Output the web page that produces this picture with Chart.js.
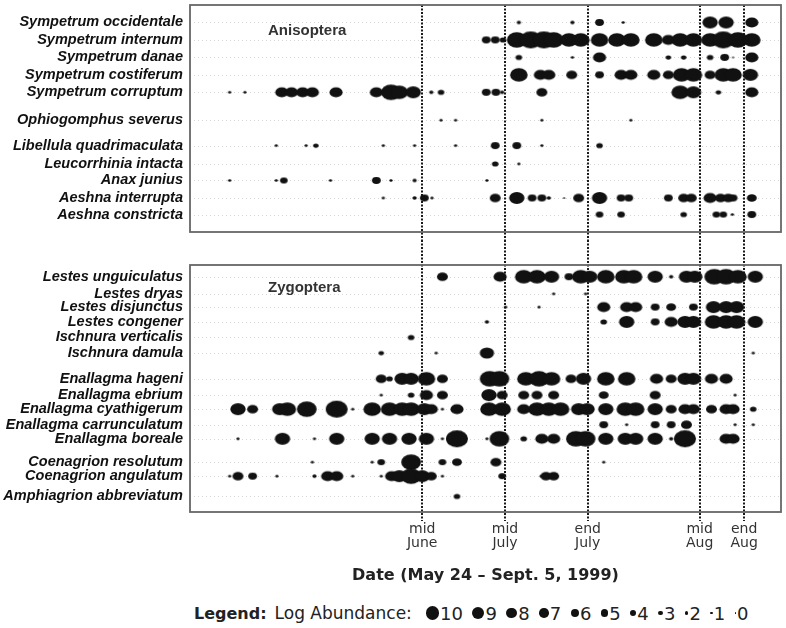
<!DOCTYPE html>
<html lang="en">
<head>
<meta charset="UTF-8">
<title>Odonata abundance, May 24 - Sept. 5, 1999</title>
<script src="https://cdn.jsdelivr.net/npm/chart.js@4.4.1/dist/chart.umd.min.js"></script>
<style>
body {margin:0; background:#fff; font-family:"DejaVu Sans", sans-serif;}
#page {position:relative; width:786px; height:628px; overflow:hidden;}
#topBox {position:absolute; left:0; top:0; width:786px; height:240px;}
#botBox {position:absolute; left:0; top:240px; width:786px; height:350px;}
#legend {position:absolute; left:194px; top:601px; height:24px; display:flex; align-items:center;
  font-size:17px; color:#222; white-space:nowrap;}
#legend .lab {margin-left:8px; margin-right:14px;}
#legend .item {display:inline-flex; align-items:center; margin-right:9.5px;}
#legend .dot {display:inline-block; border-radius:50%; background:#111; margin-right:1px;}
#legend .num {font-size:18px;}
</style>
</head>
<body>
<div id="page">
  <div id="topBox"><canvas id="aniso"></canvas></div>
  <div id="botBox"><canvas id="zygo"></canvas></div>
  <div id="legend"><b style="font-size:16px">Legend:</b><span class="lab">Log Abundance:</span><span id="lvls" style="display:flex;align-items:center"></span></div>
</div>

<script>
// x = sampling position along the season (not linear in days), v = log abundance
const dateTicks  = [33.4, 45.3, 57.2, 73.3, 79.7];
const dateLabels = [['mid','June'], ['mid','July'], ['end','July'], ['mid','Aug'], ['end','Aug']];
const legendLevels = [10, 9, 8, 7, 6, 5, 4, 3, 2, 1, 0];

const anisoSpecies = ['Sympetrum occidentale', 'Sympetrum internum', 'Sympetrum danae',
  'Sympetrum costiferum', 'Sympetrum corruptum', 'Ophiogomphus severus',
  'Libellula quadrimaculata', 'Leucorrhinia intacta', 'Anax junius',
  'Aeshna interrupta', 'Aeshna constricta'];
const anisoRows = [0, 1, 2, 3, 4, 5.6, 7.05, 8.1, 9.05, 10.05, 11];
const anisoObs = [
  [[47.3,2],[55.0,2],[58.9,4],[62.3,1.5],[74.8,7],[77.1,7],[80.8,6]],
  [[42.6,4],[43.9,4],[45.0,3],[47.0,9],[49.0,10],[50.9,10],[52.3,9],[54.5,8],[56.2,8],[58.9,8],[61.4,8],[63.4,8],
   [66.7,8],[68.8,6],[70.5,8],[72.4,8],[74.8,8],[76.7,10],[78.8,9],[80.8,8]],
  [[47.3,3],[55.0,1.5],[58.9,6],[68.8,2.5],[71.0,2.5],[74.8,3],[76.9,4],[78.1,1],[80.8,6]],
  [[47.3,8],[50.4,6],[51.6,6],[54.9,5],[58.9,4],[62.0,6],[63.4,6],[66.7,6],[68.8,5],[70.7,8],[72.4,8],[74.8,5],
   [76.7,8],[78.1,8],[80.6,7]],
  [[5.7,1.5],[7.9,1.5],[13.2,6],[14.6,6],[16.2,6],[17.6,6],[21.0,6],[26.8,6],[28.9,9],[30.1,8],[32.1,7],[34.7,2],
   [36.1,3],[42.6,4],[44.0,4],[44.9,2],[50.6,5],[70.5,8],[72.4,7],[76.0,2.5],[80.8,6]],
  [[36.1,1.5],[38.2,1.5],[50.6,1.5],[63.4,1.5]],
  [[12.4,1.5],[16.7,1.5],[18.1,2.5],[27.8,1.5],[32.3,1.5],[38.2,1.5],[43.9,4],[47.0,4],[50.6,1.5],[58.9,3]],
  [[43.9,3],[47.3,1.5]],
  [[5.7,1.5],[12.4,1.5],[13.5,3.5],[20.2,1.5],[26.8,4],[28.9,1.5],[32.3,2],[42.7,1.5]],
  [[27.8,1.5],[32.3,2],[33.7,4],[34.8,1.5],[43.9,5],[47.0,7],[49.2,4],[50.6,4],[51.6,2],[53.8,1],[55.9,5],[58.9,7],
   [62.0,4],[63.1,4],[68.8,4],[71.0,5],[72.1,5],[74.8,6],[76.3,5],[77.4,5],[78.1,4],[80.8,4.5]],
  [[58.9,3.5],[62.0,3.5],[71.0,3],[75.7,3.5],[76.7,3.5],[78.0,1.5],[80.8,4]]
];

const zygoSpecies = ['Lestes unguiculatus', 'Lestes dryas', 'Lestes disjunctus', 'Lestes congener',
  'Ischnura verticalis', 'Ischnura damula', 'Enallagma hageni', 'Enallagma ebrium',
  'Enallagma cyathigerum', 'Enallagma carrunculatum', 'Enallagma boreale',
  'Coenagrion resolutum', 'Coenagrion angulatum', 'Amphiagrion abbreviatum'];
const zygoRows = [0, 1.1, 1.95, 2.9, 3.9, 4.9, 6.55, 7.6, 8.5, 9.5, 10.4, 11.9, 12.8, 14.1];
const zygoObs = [
  [[36.3,5],[44.6,6],[48.0,8],[49.9,8],[52.0,7],[54.5,4],[56.2,8],[57.5,7],[59.8,8],[62.4,8],[63.8,8],[66.9,7],
   [69.2,2],[71.4,7],[72.6,7],[75.4,9],[77.1,9],[78.8,8],[81.3,7]],
  [[52.3,1.5],[56.9,1.5]],
  [[45.4,1.5],[50.2,1.5],[59.5,6],[62.8,6],[64.1,6],[66.9,4],[69.2,4.5],[72.4,4],[75.3,7],[77.1,7],[78.6,7]],
  [[42.7,2],[59.5,3],[62.8,7],[66.9,4],[69.2,6],[71.2,7],[72.4,7],[75.3,8],[77.1,8],[78.6,8],[81.3,7]],
  [[31.8,3]],
  [[27.5,2.5],[35.4,1.5],[42.7,6.5],[81.0,1.5]],
  [[27.5,5],[28.7,3],[30.5,7],[31.8,7],[34.0,8],[36.3,5],[43.1,9],[44.5,9],[48.3,8],[50.2,9],[52.0,8],[54.8,5],
   [56.6,7],[59.8,8],[62.8,8],[67.1,6],[69.2,5],[71.2,7],[72.4,7],[75.0,6],[77.1,6]],
  [[27.5,1.5],[31.8,3],[34.0,6],[36.3,5],[43.0,7],[44.9,5],[48.0,5],[49.9,5],[52.3,5],[59.5,4.5],[66.9,5],[78.4,1.5]],
  [[6.9,7],[9.0,5],[12.9,7],[14.0,8],[16.8,9],[21.1,10],[23.4,1.5],[26.2,8],[28.7,8],[30.5,8],[31.8,8],[33.7,7],
   [34.7,6],[36.3,1.5],[38.4,6],[43.0,8],[44.9,8],[48.0,6],[49.9,8],[51.6,8],[53.3,8],[55.9,7],[57.1,7],[59.8,7],
   [62.6,8],[64.1,8],[66.9,7],[69.2,5],[71.2,6],[72.4,6],[75.0,5],[77.1,6],[78.1,6],[81.0,3]],
  [[59.5,4],[62.8,1.5],[66.9,4],[69.2,4],[71.4,5],[78.4,1.5],[81.0,1.5]],
  [[6.9,1.5],[13.3,7],[17.9,1.5],[21.1,7],[26.2,7],[28.7,7],[31.5,7],[34.0,7],[36.3,1.5],[38.4,10],[42.7,1.5],
   [44.5,9],[48.0,3],[50.6,6],[52.3,6],[55.5,9],[56.9,9],[59.8,7],[62.6,7],[64.1,7],[66.9,7],[69.2,2],[71.2,10],
   [77.1,6],[78.1,6]],
  [[17.6,1.5],[26.2,1.5],[27.5,3.5],[31.8,9],[36.3,3.5],[38.4,4.5],[44.0,5],[59.5,1.5]],
  [[5.7,1.5],[6.9,5],[9.0,4],[12.5,1.5],[17.9,2],[19.8,6],[21.1,6],[23.4,1.5],[27.5,1.5],[29.0,6],[30.1,7],
   [31.8,9],[33.4,7],[34.7,5],[36.3,1.5],[44.9,3.5],[50.5,1.5],[51.2,5],[52.3,5]],
  [[38.4,3]]
];

const FONT = 'DejaVu Sans';
const LABEL_FONT = 'Liberation Sans';
const INK = '#111';

// the printed figure is stretched sideways, so the dots are ellipses
const dotCache = {};
function dot(v) {
  if (dotCache[v]) return dotCache[v];
  const w = Math.max(2, 2.2 * v), h = Math.max(1.6, 1.7 * v);
  const c = document.createElement('canvas');
  c.width = Math.ceil(w) + 2;
  c.height = Math.ceil(h) + 2;
  const g = c.getContext('2d');
  g.fillStyle = INK;
  g.beginPath();
  g.ellipse(c.width / 2, c.height / 2, w / 2, h / 2, 0, 0, Math.PI * 2);
  g.fill();
  dotCache[v] = c;
  return c;
}

function decor(rows, title, lineUp, lineDown, titleDy) {
  return {
    id: 'decor',
    beforeDatasetsDraw(chart) {
      const {ctx, chartArea: a, scales: {x, y}} = chart;
      ctx.save();
      ctx.strokeStyle = 'rgba(0,0,0,0.16)';
      ctx.lineWidth = 1;
      ctx.setLineDash([1, 3]);
      rows.forEach(r => {
        const py = Math.round(y.getPixelForValue(r)) + 0.5;
        ctx.beginPath(); ctx.moveTo(a.left, py); ctx.lineTo(a.right, py); ctx.stroke();
      });
      ctx.strokeStyle = '#1a1a1a';
      ctx.lineWidth = 2;
      ctx.setLineDash([2, 1.5]);
      dateTicks.forEach(d => {
        const px = Math.round(x.getPixelForValue(d));
        ctx.beginPath(); ctx.moveTo(px, a.top - lineUp); ctx.lineTo(px, a.bottom + lineDown); ctx.stroke();
      });
      ctx.restore();
    },
    afterDatasetsDraw(chart) {
      const {ctx, chartArea: a} = chart;
      ctx.save();
      ctx.strokeStyle = '#666';
      ctx.lineWidth = 1.8;
      ctx.strokeRect(a.left, a.top, a.right - a.left, a.bottom - a.top);
      ctx.fillStyle = '#333';
      ctx.font = 'bold 15px "' + LABEL_FONT + '"';
      ctx.textBaseline = 'middle';
      ctx.fillText(title, a.left + 78, a.top + titleDy);
      ctx.restore();
    }
  };
}

function makePanel(id, species, rows, obs, yMin, yMax, pad, showX, title, lineUp, lineDown, titleDy) {
  const pts = [];
  obs.forEach((list, i) => list.forEach(o => pts.push({x: o[0], y: rows[i], v: o[1]})));
  return new Chart(document.getElementById(id), {
    type: 'scatter',
    data: {datasets: [{data: pts, pointStyle: c => dot(c.raw.v), pointRadius: 3}]},
    options: {
      responsive: true,
      maintainAspectRatio: false,
      animation: false,
      events: [],
      layout: {padding: pad},
      plugins: {legend: {display: false}, tooltip: {enabled: false}},
      scales: {
        x: {
          type: 'linear', min: 0, max: 85, display: showX,
          afterBuildTicks: s => { s.ticks = dateTicks.map(v => ({value: v})); },
          afterFit: s => { s.height = showX ? 78 : 0; s.paddingLeft = 0; s.paddingRight = 0; },
          grid: {display: false, drawTicks: false},
          border: {display: false},
          ticks: {autoSkip: false, maxRotation: 0, padding: 10, color: '#333',
                  font: {family: FONT, size: 14, lineHeight: 1},
                  callback: (v, i) => dateLabels[i]},
          title: {display: true, text: 'Date (May 24 \u2013 Sept. 5, 1999)', color: '#222',
                  font: {family: FONT, size: 16, weight: 'bold'}, padding: {top: 0, bottom: 5}}
        },
        y: {
          type: 'linear', reverse: true, min: yMin, max: yMax,
          afterBuildTicks: s => { s.ticks = rows.map(v => ({value: v})); },
          afterFit: s => { s.width = 190; s.paddingTop = 0; s.paddingBottom = 0; },
          grid: {display: false, drawTicks: false},
          border: {display: false},
          ticks: {autoSkip: false, padding: 7, color: '#111',
                  font: {family: LABEL_FONT, size: 14.5, style: 'italic', weight: 'bold'},
                  callback: (v, i) => species[i]}
        }
      }
    },
    plugins: [decor(rows, title, lineUp, lineDown, titleDy)]
  });
}

makePanel('aniso', anisoSpecies, anisoRows, anisoObs, -1, 12,
  {top: 5, right: 3, bottom: 8, left: 0}, false, 'Anisoptera', 0, 8, 26);
makePanel('zygo', zygoSpecies, zygoRows, zygoObs, -0.75, 15.1,
  {top: 25, right: 3, bottom: 0, left: 0}, true, 'Zygoptera', 25, 9, 23);

// legend of dot sizes
const lv = document.getElementById('lvls');
legendLevels.forEach(v => {
  const d = 1.2 * v + 1.2;
  const item = document.createElement('span');
  item.className = 'item';
  item.innerHTML = '<span class="dot" style="width:' + d + 'px;height:' + d + 'px"></span><span class="num">' + v + '</span>';
  lv.appendChild(item);
});
</script>
</body>
</html>
